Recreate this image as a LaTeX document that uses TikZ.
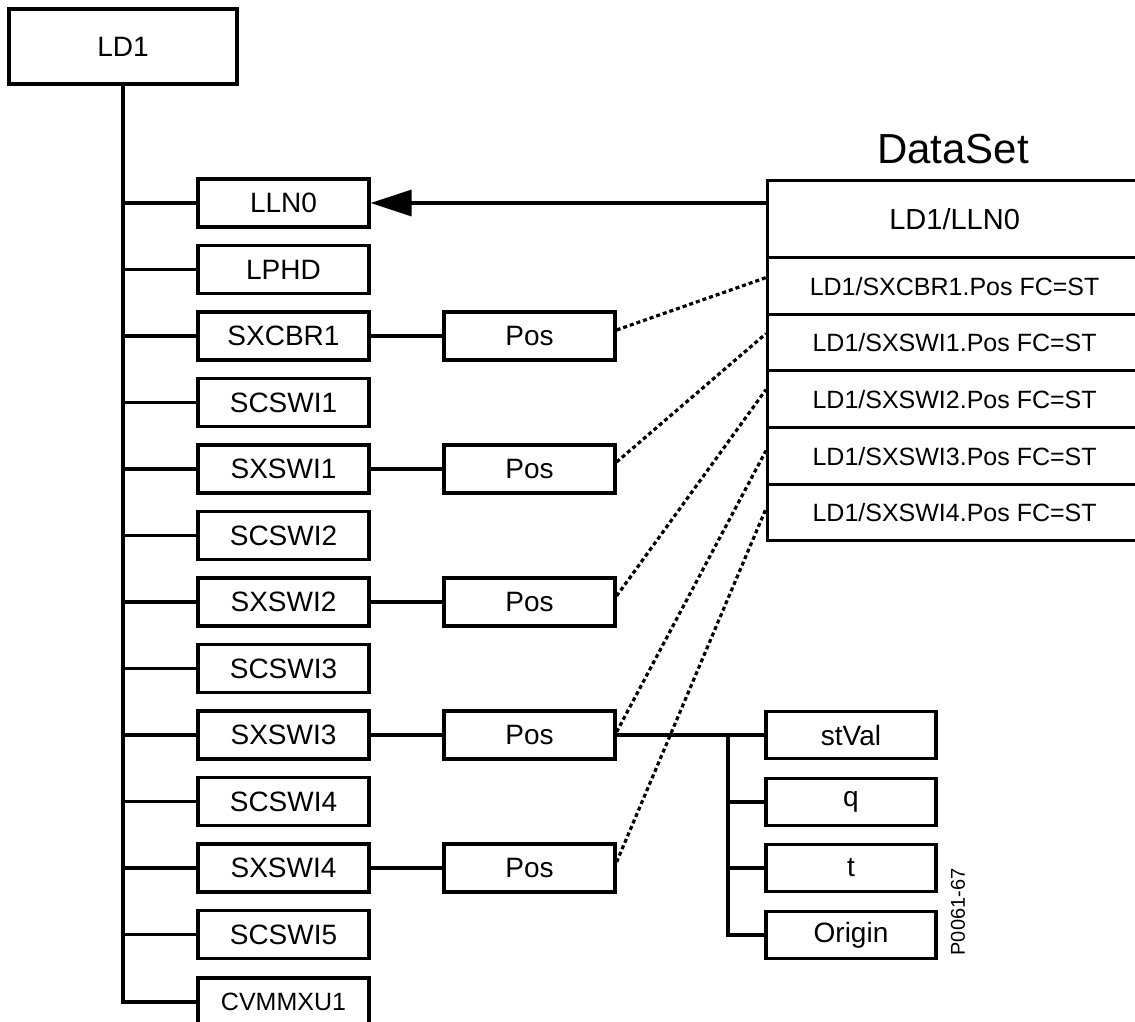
\documentclass[tikz,border=0pt]{standalone}
\usepackage{fontspec}
\setmainfont{Liberation Sans}
\usetikzlibrary{arrows.meta,calc}
\begin{document}
\begin{tikzpicture}[x=1pt,y=-1pt,
  box/.style={draw,line width=3.2pt,minimum width=171pt,minimum height=48pt,inner sep=0pt,font=\fontsize{28}{32}\selectfont},
  subbox/.style={box,minimum width=170pt,minimum height=47pt},
  ln/.style={line width=3.2pt},
  dotln/.style={line width=3.2pt,dash pattern=on 4pt off 3pt},
  dsrow/.style={draw,line width=3.2pt,minimum width=374pt,inner sep=0pt,anchor=north west,font=\fontsize{25}{28}\selectfont}]
\clip (0,0) rectangle (1135,1021);
\fill[white] (0,0) rectangle (1135,1021);
% root
\node[box,minimum width=228pt,minimum height=75pt] (LD1) at (123,46.5) {LD1};
% logical nodes
\foreach \i/\t in {0/LLN0,1/LPHD,2/SXCBR1,3/SCSWI1,4/SXSWI1,5/SCSWI2,6/SXSWI2,7/SCSWI3,8/SXSWI3,9/SCSWI4,10/SXSWI4,11/SCSWI5}
  \node[box] (L\i) at (283.5,{203+66.5*\i}) {\t};
\node[box,font=\fontsize{25}{28}\selectfont] (L12) at (283.5,1002) {CVMMXU1};
% trunk
\draw[ln] (LD1.south) |- (L12.west);
\foreach \i in {0,...,11}
  \draw[ln] (LD1.south |- L\i.west) -- (L\i.west);
% Pos nodes
\foreach \i/\k in {2/1,4/2,6/3,8/4,10/5}{
  \node[box] (P\k) at (529.5,{203+66.5*\i}) {Pos};
  \draw[ln] (L\i.east) -- (P\k.west);
}
% DataSet
\node[anchor=base,font=\fontsize{42}{46}\selectfont] (title) at (953,163) {DataSet};
\node[dsrow,minimum height=77pt,font=\fontsize{29}{32}\selectfont] (ds0) at (766,179) {LD1/LLN0};
\node[dsrow,minimum height=57pt] (ds1) at (766,256) {LD1/SXCBR1.Pos FC=ST};
\node[dsrow,minimum height=56pt] (ds2) at (766,313) {LD1/SXSWI1.Pos FC=ST};
\node[dsrow,minimum height=57pt] (ds3) at (766,369) {LD1/SXSWI2.Pos FC=ST};
\node[dsrow,minimum height=57pt] (ds4) at (766,426) {LD1/SXSWI3.Pos FC=ST};
\node[dsrow,minimum height=56pt] (ds5) at (766,483) {LD1/SXSWI4.Pos FC=ST};
% arrow
\draw[ln,-{Triangle[length=41pt,width=26pt]}] (ds0.west |- L0.east) -- (L0.east);
% dotted links
\draw[dotln] ($(P1.east)+(0,-6)$) -- ($(ds1.west)+(0,-8.5)$);
\draw[dotln] ($(P2.east)+(0,-7)$) -- ($(ds2.west)+(0,-9)$);
\draw[dotln] ($(P3.east)+(0,-6)$) -- ($(ds3.west)+(0,-9.5)$);
\draw[dotln] ($(P4.east)+(0,-3)$) -- ($(ds4.west)+(0,-5.5)$);
\draw[dotln] ($(P5.east)+(0,-6)$) -- ($(ds5.west)+(0,-4)$);
% attributes
\node[subbox] (S1) at (851,735) {stVal};
\node[subbox] (S2) at (851,802) {q};
\node[subbox] (S3) at (851,868) {t};
\node[subbox] (S4) at (851,935) {Origin};
\draw[ln] (P4.east) -- (S1.west);
\coordinate (st) at (728,735);
\draw[ln] (st) |- (S4.west);
\draw[ln] (st |- S2.west) -- (S2.west);
\draw[ln] (st |- S3.west) -- (S3.west);
% figure code
\node[rotate=90,font=\fontsize{20}{22}\selectfont] (code) at (958,912) {P0061-67};
\end{tikzpicture}
\end{document}
